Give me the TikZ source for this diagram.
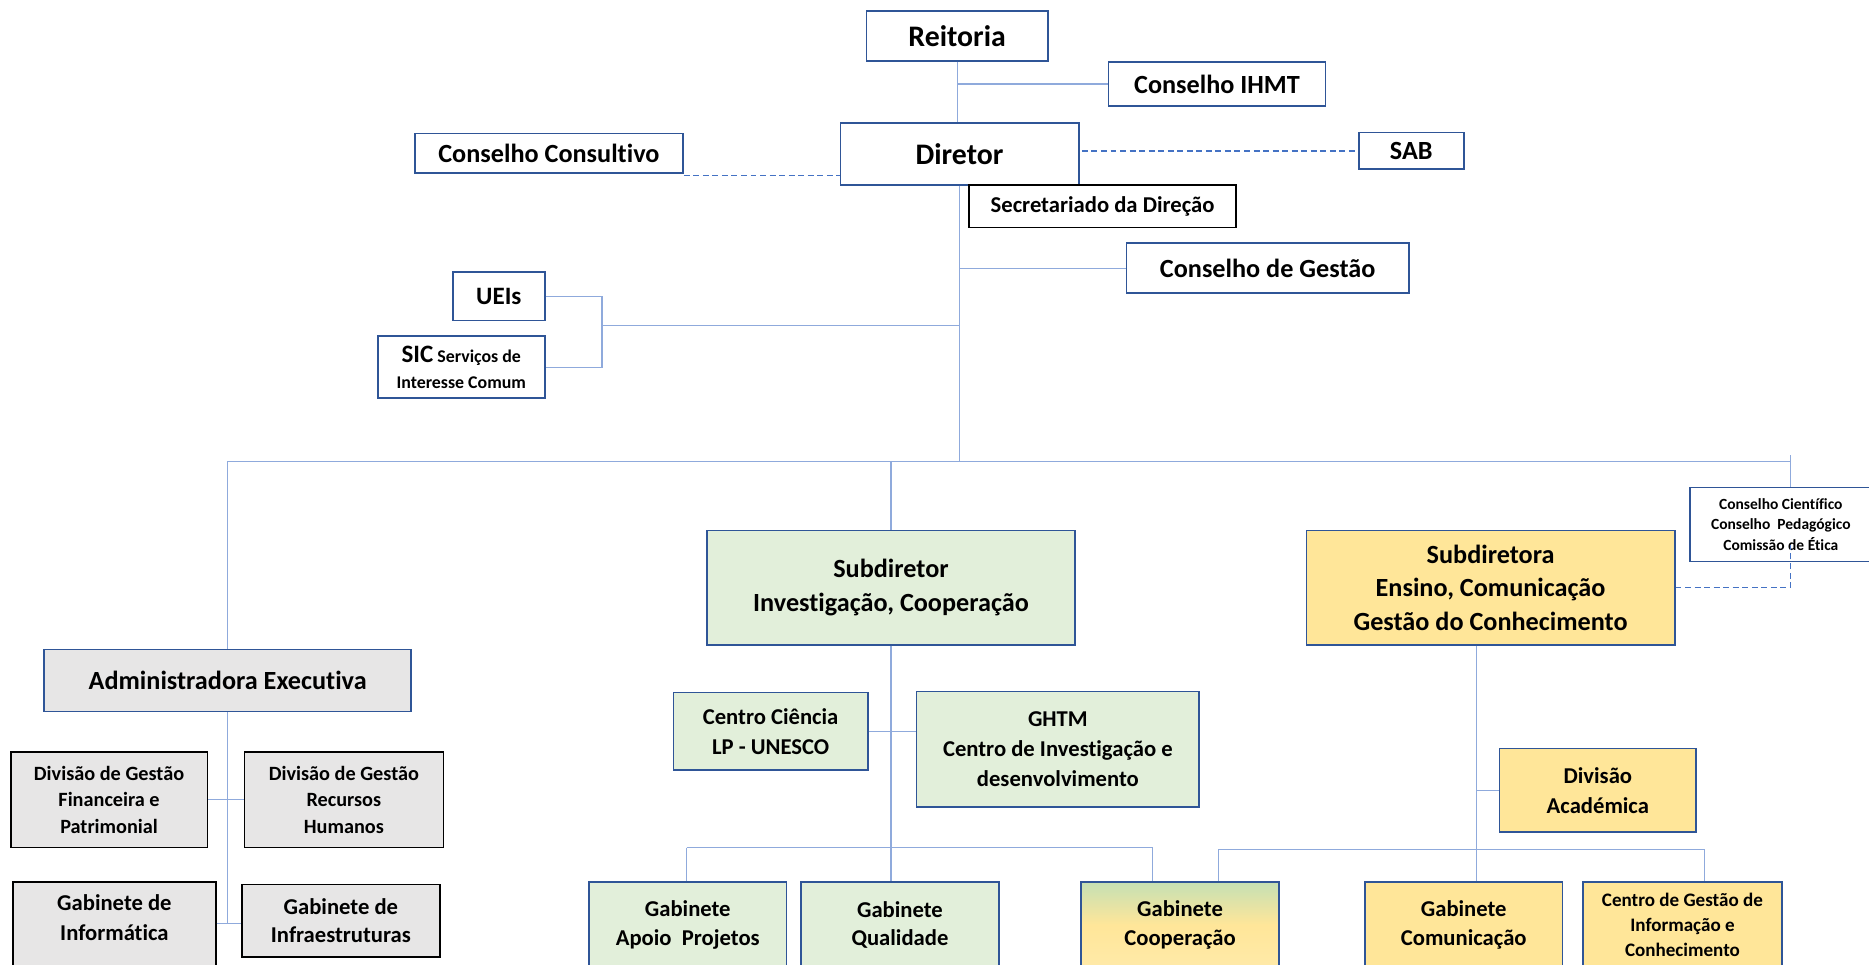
\documentclass[tikz,border=0pt]{standalone}
\usepackage{fontspec}
\setmainfont{Carlito}[Ligatures=NoCommon]
\usetikzlibrary{calc}
\definecolor{bordblue}{HTML}{2F5597}
\definecolor{connblue}{HTML}{8FAADC}
\definecolor{dashblue}{HTML}{4472C4}
\definecolor{lgreen}{HTML}{E2EFDA}
\definecolor{lyellow}{HTML}{FFE699}
\definecolor{lgray}{HTML}{E7E6E6}
\definecolor{cgreen}{HTML}{C5E0B4}
\newcommand{\fsz}[2]{\fontsize{#1}{#2}\selectfont\bfseries}
\tikzset{
  box/.style={draw=bordblue, line width=1.3pt, fill=white, align=center, inner sep=0pt},
  blkbox/.style={box, draw=black},
  conn/.style={draw=connblue, line width=1pt},
  dconn/.style={draw=dashblue, line width=1.2pt, dash pattern=on 5pt off 3pt},
}
\begin{document}
\begin{tikzpicture}[x=1pt,y=-1pt]
\useasboundingbox (0,0) rectangle (1568,809);
% nodes
\node[box, minimum width=152pt, minimum height=42pt, font=\fsz{25}{30}] (reit) at (803,30) {Reitoria};
\node[box, minimum width=182pt, minimum height=37pt, font=\fsz{22}{26}] (ihmt) at (1021,70.5) {Conselho IHMT};
\node[box, minimum width=200pt, minimum height=52pt, font=\fsz{25}{30}] (dir) at (805,129) {Diretor};
\node[box, minimum width=225pt, minimum height=33pt, font=\fsz{22}{26}] (ccons) at (460.5,128.5) {Conselho Consultivo};
\node[box, minimum width=88pt, minimum height=31pt, font=\fsz{22}{26}] (sab) at (1184,126.5) {SAB};
\node[blkbox, minimum width=224pt, minimum height=36pt, font=\fsz{19}{23}] (secr) at (925,173) {Secretariado da Direção};
\node[box, minimum width=237pt, minimum height=42pt, font=\fsz{22}{26}] (cges) at (1063.5,225) {Conselho de Gestão};
\node[box, minimum width=77pt, minimum height=41pt, font=\fsz{21}{25}] (ueis) at (418.5,248.5) {UEIs};
\node[box, minimum width=140pt, minimum height=52pt, font=\fsz{15}{22}] (sic) at (387,308) {{\fontsize{21}{22}\selectfont SIC} Serviços de\\Interesse Comum};
\node[box, minimum width=152pt, minimum height=62pt, font=\fsz{13}{17}] (ccient) at (1494,440) {Conselho Científico\\Conselho\ \ Pedagógico\\Comissão de Ética};
\node[box, fill=lgreen, minimum width=309pt, minimum height=96pt, font=\fsz{22}{29}] (sdir) at (747.5,493) {Subdiretor\\Investigação, Cooperação};
\node[box, fill=lyellow, minimum width=309pt, minimum height=96pt, font=\fsz{22}{28}] (sdira) at (1250.5,493) {Subdiretora\\Ensino, Comunicação\\Gestão do Conhecimento};
\node[box, fill=lgray, minimum width=308pt, minimum height=52pt, font=\fsz{22}{26}] (adm) at (191,571) {Administradora Executiva};
\node[blkbox, fill=lgray, minimum width=165pt, minimum height=80pt, font=\fsz{17}{22}] (dgf) at (91.5,671) {Divisão de Gestão\\Financeira e\\Patrimonial};
\node[blkbox, fill=lgray, minimum width=167pt, minimum height=80pt, font=\fsz{17}{22}] (dgrh) at (288.5,671) {Divisão de Gestão\\Recursos\\Humanos};
\node[blkbox, fill=lgray, minimum width=170pt, minimum height=96pt, font=\fsz{19}{25}] (ginf) at (96,788) {Gabinete de\\Informática\\[12pt]};
\node[blkbox, fill=lgray, minimum width=166pt, minimum height=61pt, font=\fsz{19}{24}] (ginfra) at (286,772.5) {Gabinete de\\Infraestruturas};
\node[box, fill=lgreen, minimum width=163pt, minimum height=65pt, font=\fsz{19}{25}] (ccien) at (646.5,613.5) {Centro Ciência\\LP - UNESCO};
\node[box, fill=lgreen, minimum width=237pt, minimum height=97pt, font=\fsz{19}{25}] (ghtm) at (887.5,628.5) {GHTM\\Centro de Investigação e\\desenvolvimento};
\node[box, fill=lgreen, minimum width=166pt, minimum height=72pt, font=\fsz{19}{24}] (gapo) at (577,776) {Gabinete\\Apoio\ \ Projetos};
\node[box, fill=lgreen, minimum width=166pt, minimum height=72pt, font=\fsz{19}{24}] (gqual) at (755,776) {Gabinete\\Qualidade};
\node[box, top color=cgreen, bottom color=lyellow!85!white, middle color=lyellow, minimum width=166pt, minimum height=72pt, font=\fsz{19}{24}] (gcoop) at (990,776) {Gabinete\\Cooperação};
\node[box, fill=lyellow, minimum width=165pt, minimum height=70pt, font=\fsz{19}{25}] (divac) at (1340.5,663) {Divisão\\Académica};
\node[box, fill=lyellow, minimum width=166pt, minimum height=72pt, font=\fsz{19}{24}] (gcom) at (1228,776) {Gabinete\\Comunicação};
\node[box, fill=lyellow, minimum width=167pt, minimum height=72pt, font=\fsz{16}{21}] (cgic) at (1411.5,776) {Centro de Gestão de\\Informação e\\Conhecimento};
% coordinates
\coordinate (b1) at (191,387);
\coordinate (b2) at (1502,387);
\coordinate (b2t) at (1502,382);
\coordinate (sicj) at (505,273);
\coordinate (t775) at (191,775);
\coordinate (s1) at (576,711);
\coordinate (s2) at (967,711);
\coordinate (r1) at (1022,713);
\coordinate (r2) at (1430,713);
\coordinate (sx) at (1239,0);
\coordinate (dd) at (1502,457);
% connectors
\draw[conn] (reit.south) -- (reit.south |- dir.north);
\draw[conn] (ihmt.west) -- (ihmt.west -| reit.south);
\draw[conn] (dir.south) -- (dir.south |- b1);
\draw[conn] (cges.west) -- (cges.west -| dir.south);
\draw[conn] (ueis.east) -| (sicj) |- (sic.east);
\draw[conn] (sicj) -- (sicj -| dir.south);
\draw[conn] (b1) -- (b2);
\draw[conn] (b1) -- (adm.north);
\draw[conn] (sdir.north |- b1) -- (sdir.north);
\draw[conn] (b2t) -- (b2t |- ccient.north);
\draw[conn] (adm.south) -- (t775);
\draw[conn] (dgf.east) -- (dgrh.west);
\draw[conn] (ginf.east |- t775) -- (ginfra.west |- t775);
\draw[conn] (sdir.south) -- (sdir.south |- gqual.north);
\draw[conn] (ccien.east) -- (ccien.east -| ghtm.west);
\draw[conn] (s1) -- (s2);
\draw[conn] (s1) -- (s1 |- gapo.north);
\draw[conn] (s2) -- (s2 |- gcoop.north);
\draw[conn] (sdira.south -| sx) -- (gcom.north -| sx);
\draw[conn] (divac.west) -- (divac.west -| sx);
\draw[conn] (r1) -- (r2);
\draw[conn] (r1) -- (r1 |- gcoop.north);
\draw[conn] (r2) -- (r2 |- cgic.north);
% dashed
\draw[dconn] ([yshift=-1.5pt]ccons.south east) -- ([yshift=-1.5pt]ccons.south east -| dir.west);
\draw[dconn] (sab.west -| dir.east) ++(2,0) -- (sab.west);
\draw[dconn] (sdira.east) -| (dd);
\end{tikzpicture}
\end{document}
